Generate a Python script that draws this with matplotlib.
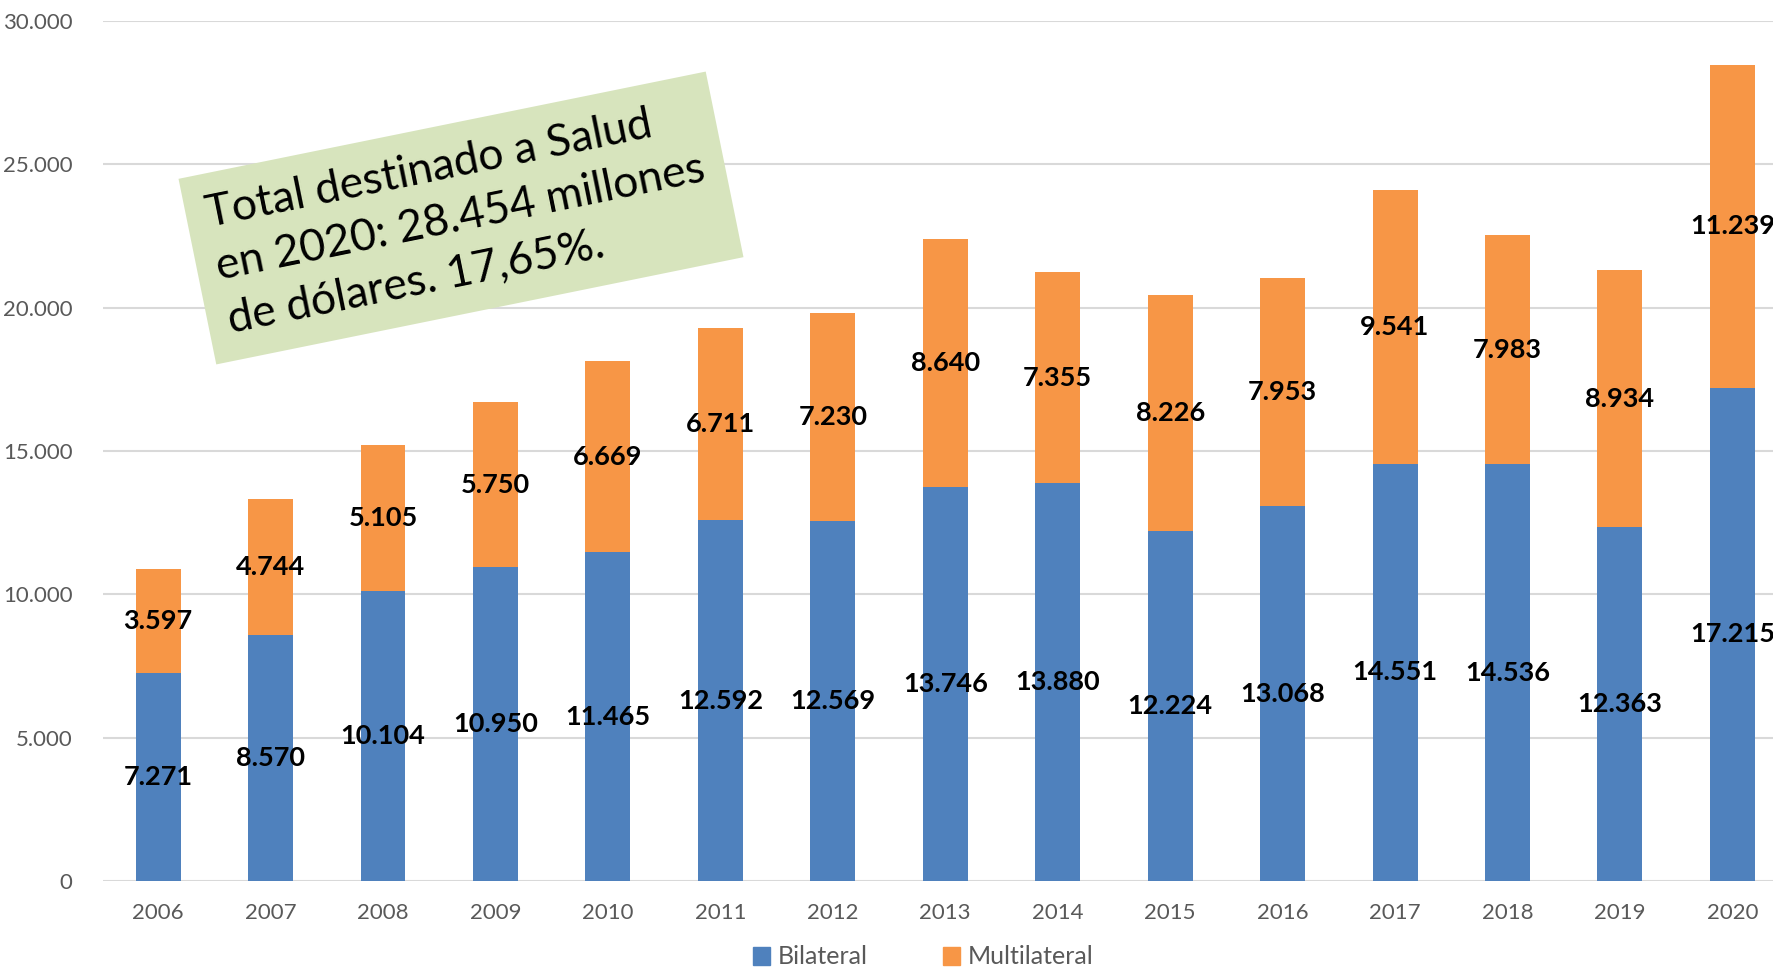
import matplotlib
matplotlib.use("Agg")
import matplotlib.pyplot as plt
import numpy as np
from matplotlib.patches import Patch

# Data (millones de dólares)
years = ["2006", "2007", "2008", "2009", "2010", "2011", "2012", "2013",
         "2014", "2015", "2016", "2017", "2018", "2019", "2020"]
bilateral = [7271, 8570, 10104, 10950, 11465, 12592, 12569, 13746,
             13880, 12224, 13068, 14551, 14536, 12363, 17215]
multilateral = [3597, 4744, 5105, 5750, 6669, 6711, 7230, 8640,
                7355, 8226, 7953, 9541, 7983, 8934, 11239]
y_ticks = [0, 5000, 10000, 15000, 20000, 25000, 30000]

blue = "#4F81BD"
orange = "#F79646"
grey_txt = "#595959"

plt.rcParams["font.family"] = ["Lato", "DejaVu Sans"]

W, H = 1774, 969
fig = plt.figure(figsize=(W / 100, H / 100), dpi=100)
ax = fig.add_axes([103 / W, 1 - 881 / H, (W - 103) / W, (881 - 21) / H])

def fmt(v):
    return f"{v:,}".replace(",", ".")

x = np.arange(len(years))
b1 = ax.bar(x, bilateral, 0.4, color=blue, zorder=3)
b2 = ax.bar(x, multilateral, 0.4, bottom=bilateral, color=orange, zorder=3)

for i in range(len(years)):
    ax.text(x[i], bilateral[i] / 2, fmt(bilateral[i]), ha="center", va="center",
            fontsize=19.5, fontweight="bold", color="black", zorder=4)
    ax.text(x[i], bilateral[i] + multilateral[i] / 2, fmt(multilateral[i]),
            ha="center", va="center", fontsize=19.5, fontweight="bold",
            color="black", zorder=4)

ax.set_xlim(-0.49, 14.37)
ax.set_ylim(0, 30000)
ax.set_yticks(y_ticks)
ax.set_yticklabels([fmt(v) for v in y_ticks])
ax.set_xticks(x)
ax.set_xticklabels(years)
ax.tick_params(axis="both", length=0, labelsize=16, colors=grey_txt)
ax.tick_params(axis="y", pad=22)
ax.tick_params(axis="x", pad=16)
ax.grid(axis="y", color="#D9D9D9", linewidth=1.5, zorder=0)
for s in ax.spines.values():
    s.set_visible(False)

# Annotation box
fig.text(461 / W, 1 - 218 / H,
         "Total destinado a Salud\nen 2020: 28.454 millones\nde dólares. 17,65%.",
         ha="center", va="center", rotation=11.5, rotation_mode="anchor",
         fontsize=32, color="black", multialignment="left", linespacing=1.4,
         bbox=dict(boxstyle="square,pad=0.45", fc="#D7E4BD", ec="none"))

handles = [Patch(color=blue, label="Bilateral"), Patch(color=orange, label="Multilateral")]
fig.legend(handles=handles, loc="center", bbox_to_anchor=(923 / W, 1 - 957 / H),
           ncol=2, frameon=False, fontsize=18, labelcolor=grey_txt,
           handlelength=0.7, handleheight=0.7, handletextpad=0.3, columnspacing=3.0)

fig.savefig("out.png", dpi=100)
